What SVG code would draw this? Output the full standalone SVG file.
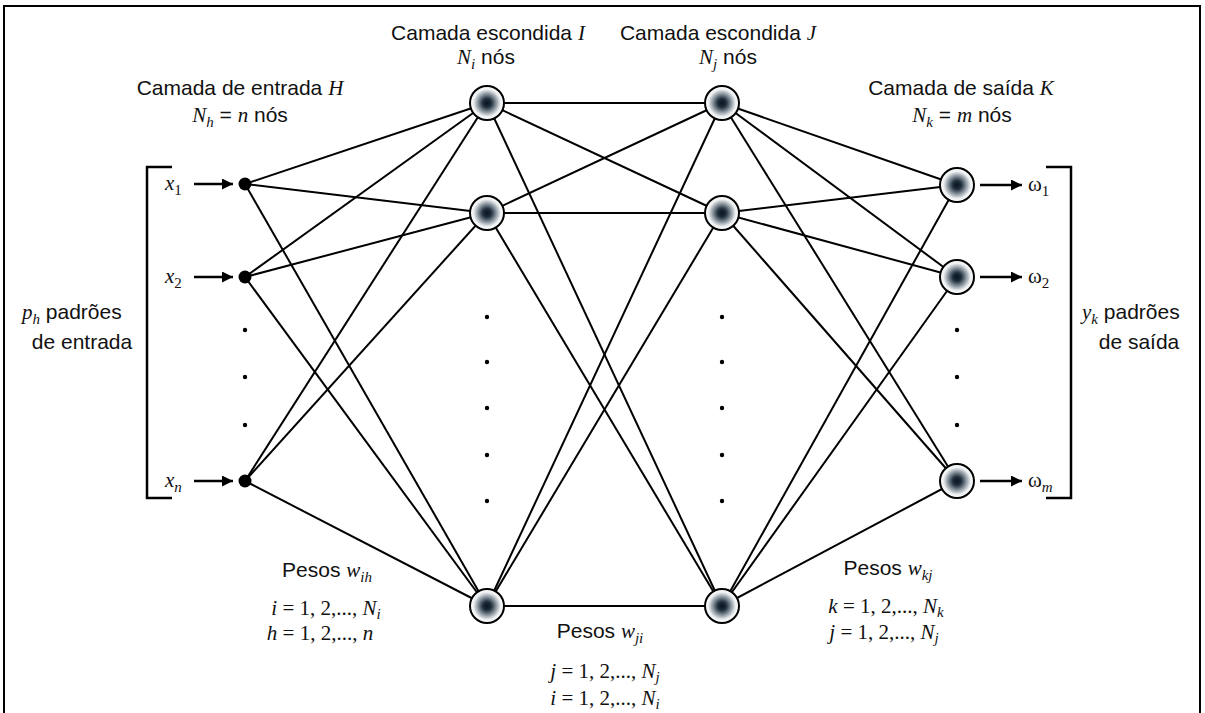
<svg xmlns="http://www.w3.org/2000/svg" width="1205" height="713" viewBox="0 0 1205 713">
<defs>
<radialGradient id="ng" cx="50%" cy="50%" r="50%">
<stop offset="0" stop-color="#08131d"/>
<stop offset="0.25" stop-color="#1f2f3c"/>
<stop offset="0.55" stop-color="#8e99a2"/>
<stop offset="0.8" stop-color="#eef0f1"/>
<stop offset="1" stop-color="#ffffff"/>
</radialGradient>
<marker id="ah" viewBox="0 0 10 10" refX="10" refY="5" markerWidth="5" markerHeight="4.4" orient="auto" markerUnits="strokeWidth">
<path d="M0,0 L10,5 L0,10 z" fill="#000"/>
</marker>
<style>
.lbl{font-family:"Liberation Sans",Arial,sans-serif;font-size:21px;fill:#111}
.m{font-family:"Liberation Serif","Times New Roman",serif;font-style:italic}
.r{font-family:"Liberation Serif","Times New Roman",serif;font-style:normal}
.sub{font-size:15px}
.c{stroke:#000;stroke-width:2;fill:none}
.node{fill:url(#ng);stroke:#000;stroke-width:2}
.inp{fill:#000}
.dot{fill:#000}
.br{stroke:#000;stroke-width:2.5;fill:none}
.arr{stroke:#000;stroke-width:2.5;marker-end:url(#ah)}
</style>
</defs>
<rect x="4" y="6" width="1196" height="720" fill="#fff" stroke="#000" stroke-width="2"/>

<g id="connectors">
<line class="c" x1="245" y1="184" x2="487" y2="103"/>
<line class="c" x1="245" y1="184" x2="487" y2="213"/>
<line class="c" x1="245" y1="184" x2="487" y2="606"/>
<line class="c" x1="245" y1="277" x2="487" y2="103"/>
<line class="c" x1="245" y1="277" x2="487" y2="213"/>
<line class="c" x1="245" y1="277" x2="487" y2="606"/>
<line class="c" x1="245" y1="481" x2="487" y2="103"/>
<line class="c" x1="245" y1="481" x2="487" y2="213"/>
<line class="c" x1="245" y1="481" x2="487" y2="606"/>
<line class="c" x1="487" y1="103" x2="722" y2="103"/>
<line class="c" x1="487" y1="103" x2="722" y2="213"/>
<line class="c" x1="487" y1="103" x2="722" y2="606"/>
<line class="c" x1="487" y1="213" x2="722" y2="103"/>
<line class="c" x1="487" y1="213" x2="722" y2="213"/>
<line class="c" x1="487" y1="213" x2="722" y2="606"/>
<line class="c" x1="487" y1="606" x2="722" y2="103"/>
<line class="c" x1="487" y1="606" x2="722" y2="213"/>
<line class="c" x1="487" y1="606" x2="722" y2="606"/>
<line class="c" x1="722" y1="103" x2="957" y2="185"/>
<line class="c" x1="722" y1="103" x2="957" y2="277"/>
<line class="c" x1="722" y1="103" x2="957" y2="481"/>
<line class="c" x1="722" y1="213" x2="957" y2="185"/>
<line class="c" x1="722" y1="213" x2="957" y2="277"/>
<line class="c" x1="722" y1="213" x2="957" y2="481"/>
<line class="c" x1="722" y1="606" x2="957" y2="185"/>
<line class="c" x1="722" y1="606" x2="957" y2="277"/>
<line class="c" x1="722" y1="606" x2="957" y2="481"/>
<line class="arr" x1="194" y1="184" x2="233" y2="184"/>
<line class="arr" x1="194" y1="277" x2="233" y2="277"/>
<line class="arr" x1="194" y1="481" x2="233" y2="481"/>
<line class="arr" x1="980" y1="185" x2="1022" y2="185"/>
<line class="arr" x1="980" y1="277" x2="1022" y2="277"/>
<line class="arr" x1="980" y1="481" x2="1022" y2="481"/>
</g>

<g id="brackets">
<path class="br" d="M172,167 H147 V498 H172"/>
<path class="br" d="M1046,167 H1071 V498 H1046"/>
</g>

<g id="layer-H">
<circle class="inp" cx="245" cy="184" r="6.5"/>
<circle class="inp" cx="245" cy="277" r="6.5"/>
<circle class="inp" cx="245" cy="481" r="6.5"/>
<circle class="dot" cx="245" cy="330" r="2.2"/>
<circle class="dot" cx="245" cy="377" r="2.2"/>
<circle class="dot" cx="245" cy="425" r="2.2"/>
<text class="lbl m" x="165" y="190">x<tspan class="sub r" dy="5">1</tspan></text>
<text class="lbl m" x="165" y="283">x<tspan class="sub r" dy="5">2</tspan></text>
<text class="lbl m" x="165" y="487">x<tspan class="sub" dy="5">n</tspan></text>
</g>

<g id="layer-I">
<circle class="node" cx="487" cy="103" r="17"/>
<circle class="node" cx="487" cy="213" r="17"/>
<circle class="node" cx="487" cy="606" r="17"/>
<circle class="dot" cx="487" cy="317" r="2.2"/>
<circle class="dot" cx="487" cy="362" r="2.2"/>
<circle class="dot" cx="487" cy="408" r="2.2"/>
<circle class="dot" cx="487" cy="455" r="2.2"/>
<circle class="dot" cx="487" cy="501" r="2.2"/>
</g>

<g id="layer-J">
<circle class="node" cx="722" cy="103" r="17"/>
<circle class="node" cx="722" cy="213" r="17"/>
<circle class="node" cx="722" cy="606" r="17"/>
<circle class="dot" cx="722" cy="317" r="2.2"/>
<circle class="dot" cx="722" cy="362" r="2.2"/>
<circle class="dot" cx="722" cy="408" r="2.2"/>
<circle class="dot" cx="722" cy="455" r="2.2"/>
<circle class="dot" cx="722" cy="501" r="2.2"/>
</g>

<g id="layer-K">
<circle class="node" cx="957" cy="185" r="17"/>
<circle class="node" cx="957" cy="277" r="17"/>
<circle class="node" cx="957" cy="481" r="17"/>
<circle class="dot" cx="957" cy="330" r="2.2"/>
<circle class="dot" cx="957" cy="377" r="2.2"/>
<circle class="dot" cx="957" cy="425" r="2.2"/>
<text class="lbl r" x="1028" y="191">ω<tspan class="sub" dy="5">1</tspan></text>
<text class="lbl r" x="1028" y="283">ω<tspan class="sub" dy="5">2</tspan></text>
<text class="lbl r" x="1028" y="487">ω<tspan class="sub m" dy="5">m</tspan></text>
</g>

<g id="titles">
<text class="lbl" x="240" y="95" text-anchor="middle">Camada de entrada <tspan class="m">H</tspan></text>
<text class="lbl" x="240" y="122" text-anchor="middle"><tspan class="m">N</tspan><tspan class="m sub" dy="5">h</tspan><tspan dy="-5"> = </tspan><tspan class="m">n</tspan> nós</text>
<text class="lbl" x="488" y="40" text-anchor="middle">Camada escondida <tspan class="m">I</tspan></text>
<text class="lbl" x="486" y="64" text-anchor="middle"><tspan class="m">N</tspan><tspan class="m sub" dy="5">i</tspan><tspan dy="-5"> nós</tspan></text>
<text class="lbl" x="718" y="40" text-anchor="middle">Camada escondida <tspan class="m">J</tspan></text>
<text class="lbl" x="728" y="64" text-anchor="middle"><tspan class="m">N</tspan><tspan class="m sub" dy="5">j</tspan><tspan dy="-5"> nós</tspan></text>
<text class="lbl" x="961" y="95" text-anchor="middle">Camada de saída <tspan class="m">K</tspan></text>
<text class="lbl" x="962" y="122" text-anchor="middle"><tspan class="m">N</tspan><tspan class="m sub" dy="5">k</tspan><tspan dy="-5"> = </tspan><tspan class="m">m</tspan> nós</text>
</g>

<g id="side-labels">
<text class="lbl" x="22" y="319"><tspan class="m">p</tspan><tspan class="m sub" dy="5">h</tspan><tspan dy="-5">  padrões</tspan></text>
<text class="lbl" x="82" y="349" text-anchor="middle">de entrada</text>
<text class="lbl" x="1082" y="319"><tspan class="m">y</tspan><tspan class="m sub" dy="5">k</tspan><tspan dy="-5">  padrões</tspan></text>
<text class="lbl" x="1139" y="349" text-anchor="middle">de saída</text>
</g>

<g id="weights-ih">
<text class="lbl" x="327" y="577" text-anchor="middle">Pesos <tspan class="m">w</tspan><tspan class="m sub" dy="5">ih</tspan></text>
<text class="lbl r" x="326" y="615" text-anchor="middle"><tspan class="m">i</tspan> = 1, 2,..., <tspan class="m">N</tspan><tspan class="m sub" dy="4">i</tspan></text>
<text class="lbl r" x="320" y="640" text-anchor="middle"><tspan class="m">h</tspan> = 1, 2,..., <tspan class="m">n</tspan></text>
</g>

<g id="weights-ji">
<text class="lbl" x="600" y="638" text-anchor="middle">Pesos <tspan class="m">w</tspan><tspan class="m sub" dy="5">ji</tspan></text>
<text class="lbl r" x="605" y="678" text-anchor="middle"><tspan class="m">j</tspan> = 1, 2,..., <tspan class="m">N</tspan><tspan class="m sub" dy="4">j</tspan></text>
<text class="lbl r" x="605" y="705" text-anchor="middle"><tspan class="m">i</tspan> = 1, 2,..., <tspan class="m">N</tspan><tspan class="m sub" dy="4">i</tspan></text>
</g>

<g id="weights-kj">
<text class="lbl" x="888" y="575" text-anchor="middle">Pesos <tspan class="m">w</tspan><tspan class="m sub" dy="5">kj</tspan></text>
<text class="lbl r" x="886" y="613" text-anchor="middle"><tspan class="m">k</tspan> = 1, 2,..., <tspan class="m">N</tspan><tspan class="m sub" dy="4">k</tspan></text>
<text class="lbl r" x="884" y="639" text-anchor="middle"><tspan class="m">j</tspan> = 1, 2,..., <tspan class="m">N</tspan><tspan class="m sub" dy="4">j</tspan></text>
</g>
</svg>
